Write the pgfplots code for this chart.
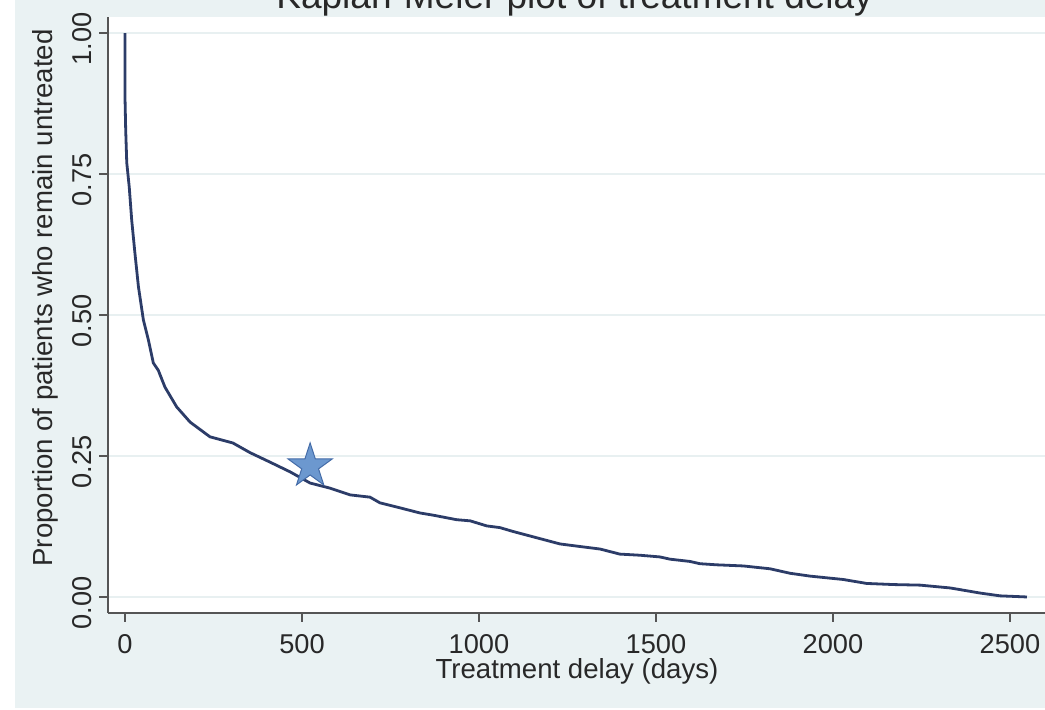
\documentclass[border=0pt]{standalone}
\usepackage{fontspec}
\setmainfont{Liberation Sans}
\usepackage{pgfplots}
\pgfplotsset{compat=1.18}
\definecolor{bgc}{RGB}{234,242,243}
\definecolor{gridc}{RGB}{232,240,241}
\definecolor{linec}{RGB}{44,60,104}
\definecolor{axc}{RGB}{85,85,85}
\definecolor{txtc}{RGB}{40,40,40}
\definecolor{starfill}{RGB}{108,152,207}
\definecolor{stardraw}{RGB}{68,108,168}
\pgfdeclareplotmark{fivestar}{%
  \pgfpathmoveto{\pgfpointpolar{90}{11.6pt}}%
  \pgfpathlineto{\pgfpointpolar{126}{4.43pt}}%
  \pgfpathlineto{\pgfpointpolar{162}{11.6pt}}%
  \pgfpathlineto{\pgfpointpolar{198}{4.43pt}}%
  \pgfpathlineto{\pgfpointpolar{234}{11.6pt}}%
  \pgfpathlineto{\pgfpointpolar{270}{4.43pt}}%
  \pgfpathlineto{\pgfpointpolar{306}{11.6pt}}%
  \pgfpathlineto{\pgfpointpolar{342}{4.43pt}}%
  \pgfpathlineto{\pgfpointpolar{18}{11.6pt}}%
  \pgfpathlineto{\pgfpointpolar{54}{4.43pt}}%
  \pgfpathclose
  \pgfusepathqfillstroke
}
\begin{document}
\begin{tikzpicture}
\useasboundingbox (0pt,0pt) rectangle (522.5pt,355pt);
\clip (0pt,0pt) rectangle (522.5pt,355pt);
\fill[bgc] (7.5pt,1pt) rectangle (522.5pt,355pt);
\begin{axis}[
  at={(54pt,48.5pt)}, anchor=south west,
  scale only axis, width=468.5pt, height=298pt,
  xmin=-48, xmax=2599, ymin=-0.0284, ymax=1.0284,
  axis background/.style={fill=white},
  axis x line*=bottom, axis y line*=left,
  axis line style={axc, line width=0.8pt, -},
  xtick={0,500,1000,1500,2000,2500},
  ytick={0,0.25,0.5,0.75,1},
  yticklabels={0.00,0.25,0.50,0.75,1.00},
  tick align=outside, major tick length=4.5pt,
  tick style={axc, line width=0.8pt},
  ymajorgrids, grid style={gridc, line width=1.3pt},
  /pgf/number format/assume math mode=true,
  /pgf/number format/1000 sep={},
  ticklabel style={font=\fontsize{13.6}{16}\selectfont, text=txtc},
  yticklabel style={rotate=90, anchor=south, xshift=-3pt},
  xticklabel style={yshift=-2.5pt},
  title={Kaplan-Meier plot of treatment delay},
  title style={at={(axis description cs:0.498,1.014)}, anchor=base, yshift=-6pt, font=\fontsize{18.5}{22}\selectfont, text=txtc},
  xlabel={Treatment delay (days)},
  xlabel style={at={(axis description cs:0.5005,-0.098)}, anchor=center, font=\fontsize{13.8}{16}\selectfont, text=txtc},
  ylabel={Proportion of patients who remain untreated},
  ylabel style={at={(axis description cs:-0.0672,0.5285)}, anchor=center, font=\fontsize{13.8}{16}\selectfont, text=txtc},
  clip=false,
]
\addplot[linec, line width=1.4pt] coordinates {
(0,1.000) (0,0.887) (2,0.828) (5,0.770) (12,0.727) (19,0.668) (28,0.610)
(38,0.550) (52,0.491) (66,0.456) (80,0.415) (94,0.402) (113,0.372) (146,0.337)
(184,0.310) (240,0.284) (305,0.273) (353,0.256) (410,0.239) (466,0.222)
(523,0.202) (579,0.193) (636,0.181) (692,0.177) (720,0.167) (777,0.158)
(833,0.149) (871,0.145) (937,0.137) (975,0.135) (1022,0.126) (1059,0.123)
(1097,0.116) (1163,0.105) (1229,0.094) (1304,0.088) (1342,0.085) (1398,0.076)
(1455,0.074) (1511,0.071) (1540,0.067) (1596,0.063) (1624,0.059) (1672,0.057)
(1747,0.055) (1822,0.050) (1879,0.042) (1935,0.037) (2029,0.031) (2095,0.024)
(2171,0.022) (2246,0.021) (2331,0.016) (2378,0.011) (2415,0.007) (2472,0.002)
(2548,0.000)
};
\addplot[only marks, mark=fivestar, mark options={fill=starfill, draw=stardraw, line width=0.5pt}] coordinates {(523,0.232)};
\end{axis}
\end{tikzpicture}
\end{document}
